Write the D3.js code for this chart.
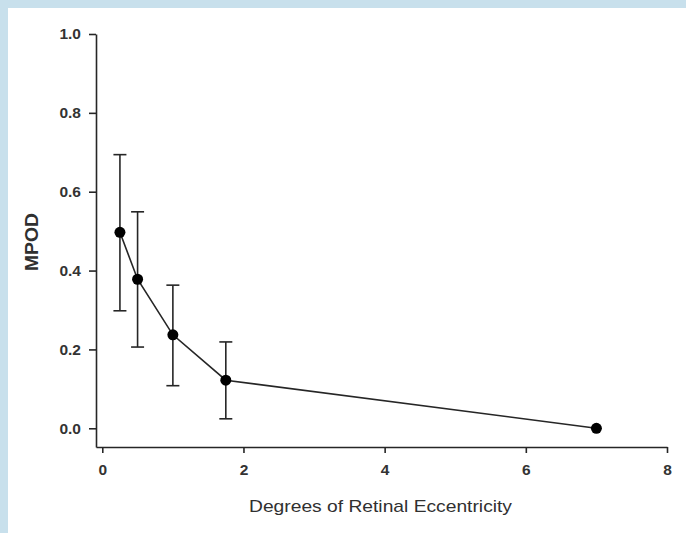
<!DOCTYPE html>
<html>
<head>
<meta charset="utf-8">
<script src="https://cdn.jsdelivr.net/npm/d3@7"></script>
<style>
  html, body { margin: 0; padding: 0; background: #c8e0ec; }
  svg { display: block; }
</style>
</head>
<body>
<script>
const eccentricity = [0.25, 0.5, 1, 1.75, 7];
const mpod = [0.497, 0.378, 0.237, 0.122, 0.0];
const upper = [0.694, 0.549, 0.363, 0.219, 0.0];
const lower = [0.298, 0.206, 0.108, 0.024, 0.0];
const xTicks = [0, 2, 4, 6, 8];
const yTicks = [0.0, 0.2, 0.4, 0.6, 0.8, 1.0];
const xTitle = "Degrees of Retinal Eccentricity";
const yTitle = "MPOD";

const W = 686, H = 533;
const svg = d3.select("body").append("svg").attr("width", W).attr("height", H);
svg.append("rect").attr("x", 0).attr("y", 0).attr("width", W).attr("height", H).attr("fill", "#c8e0ec");
svg.append("rect").attr("x", 8).attr("y", 8).attr("width", W - 8).attr("height", H - 8).attr("fill", "#ffffff");

const x = d3.scaleLinear().domain([-0.089, 8]).range([96, 667]);
const y = d3.scaleLinear().domain([-0.0475, 1]).range([447, 34]);

const ink = "#262626";
const font = "'Liberation Sans', Arial, sans-serif";

const xAxis = svg.append("g").attr("transform", "translate(0,447)")
  .call(d3.axisBottom(x).tickValues(xTicks).tickFormat(d3.format("d")).tickSize(6).tickPadding(11).tickSizeOuter(0));
const yAxis = svg.append("g").attr("transform", "translate(96,0)")
  .call(d3.axisLeft(y).tickValues(yTicks).tickFormat(d3.format(".1f")).tickSize(7).tickPadding(8).tickSizeOuter(0));

[xAxis, yAxis].forEach(g => {
  g.select(".domain").attr("stroke", ink).attr("stroke-width", 1.6);
  g.selectAll(".tick line").attr("stroke", ink).attr("stroke-width", 1.6);
  g.selectAll(".tick text").attr("fill", "#333333").attr("font-family", font)
    .attr("font-size", 15.5).attr("font-weight", "bold");
});
xAxis.selectAll(".tick text").attr("dy", "0.71em");

// Error bars
const idx = d3.range(eccentricity.length).filter(i => upper[i] > lower[i]);
const cap = 6.5;
const eb = svg.append("g").attr("stroke", ink).attr("stroke-width", 1.6).attr("fill", "none");
eb.selectAll("line.v").data(idx).join("line").attr("class", "v")
  .attr("x1", i => x(eccentricity[i])).attr("x2", i => x(eccentricity[i]))
  .attr("y1", i => y(upper[i])).attr("y2", i => y(lower[i]));
eb.selectAll("line.t").data(idx).join("line").attr("class", "t")
  .attr("x1", i => x(eccentricity[i]) - cap).attr("x2", i => x(eccentricity[i]) + cap)
  .attr("y1", i => y(upper[i])).attr("y2", i => y(upper[i]));
eb.selectAll("line.b").data(idx).join("line").attr("class", "b")
  .attr("x1", i => x(eccentricity[i]) - cap).attr("x2", i => x(eccentricity[i]) + cap)
  .attr("y1", i => y(lower[i])).attr("y2", i => y(lower[i]));

// Line
const line = d3.line().x(i => x(eccentricity[i])).y(i => y(mpod[i]));
svg.append("path").datum(d3.range(eccentricity.length)).attr("d", line)
  .attr("fill", "none").attr("stroke", ink).attr("stroke-width", 1.6);

// Points
svg.append("g").selectAll("circle").data(d3.range(eccentricity.length)).join("circle")
  .attr("cx", i => x(eccentricity[i])).attr("cy", i => y(mpod[i])).attr("r", 5.5).attr("fill", "#000");

// Titles
svg.append("text").attr("x", 380.5).attr("y", 512).attr("text-anchor", "middle")
  .attr("font-family", font).attr("font-size", 17).attr("fill", "#303030")
  .attr("textLength", 263).attr("lengthAdjust", "spacingAndGlyphs").text(xTitle);
svg.append("text").attr("transform", "translate(38,242) rotate(-90)").attr("text-anchor", "middle")
  .attr("font-family", font).attr("font-size", 18).attr("font-weight", "bold").attr("fill", "#303030")
  .attr("textLength", 58).attr("lengthAdjust", "spacingAndGlyphs").text(yTitle);
</script>
</body>
</html>
